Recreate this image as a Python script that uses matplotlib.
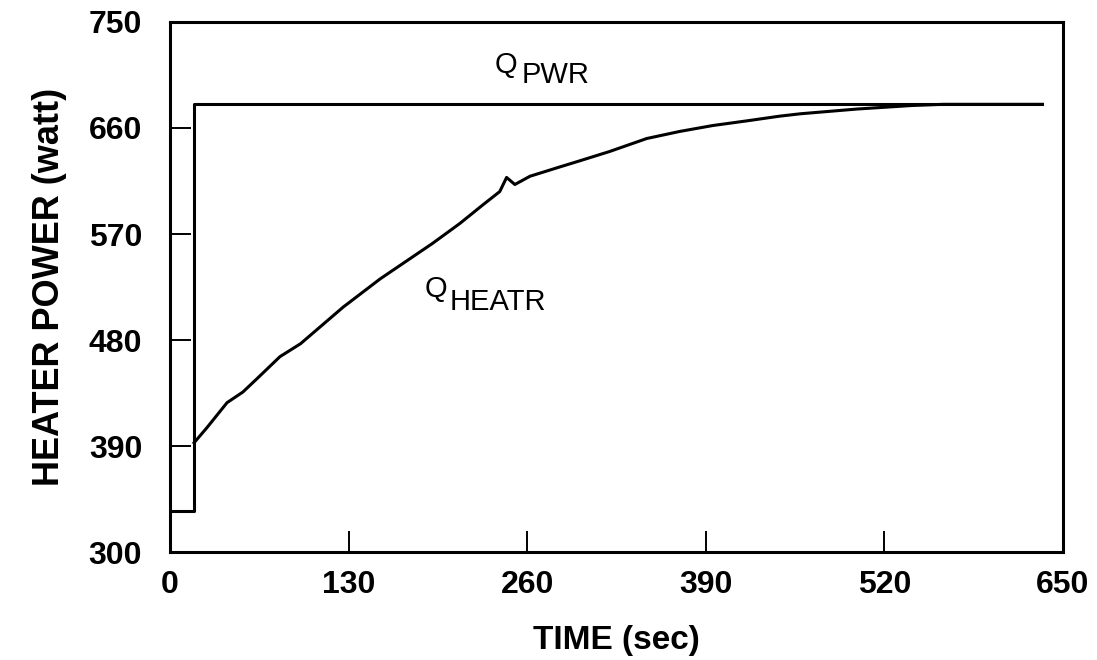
import matplotlib
matplotlib.use("Agg")
import matplotlib.pyplot as plt

plt.rcParams['font.family'] = ['Liberation Sans', 'DejaVu Sans']

# Q_PWR : step from idle power to full power
t_pwr = [0, 17.5, 17.5, 635]
q_pwr = [335, 335, 680, 680]

# Q_HEATR : heater response
t_heatr = [17.5, 27, 41.5, 53, 63, 80, 95, 126, 153, 191, 211, 228, 240, 245,
           251, 262, 284, 298, 320, 347, 371, 395, 420, 444, 459, 500, 540,
           563, 635]
q_heatr = [393, 406, 427, 436, 447, 466, 477, 508, 532, 562, 579, 595, 606, 618,
           612, 619, 627, 632, 640, 651, 657, 662, 666, 670, 672, 676, 679,
           680, 680]

xticks = [0, 130, 260, 390, 520, 650]
yticks = [300, 390, 480, 570, 660, 750]

fig = plt.figure(figsize=(10.97, 6.6), dpi=100)
ax = fig.add_axes([0.155, 0.163, 0.814, 0.804])

ax.plot(t_pwr, q_pwr, color='black', lw=2.2)
ax.plot(t_heatr, q_heatr, color='black', lw=2.2)

ax.set_xlim(0, 650)
ax.set_ylim(300, 750)
ax.set_xticks(xticks)
ax.set_yticks(yticks)
ax.tick_params(direction='in', length=15, width=1.4, labelsize=23,
               top=False, right=False)
for lab in ax.get_xticklabels() + ax.get_yticklabels():
    lab.set_fontweight('bold')
ax.tick_params(axis='x', pad=13)
ax.tick_params(axis='y', pad=20)
for s in ax.spines.values():
    s.set_linewidth(2.2)

ax.set_xlabel('TIME (sec)', fontsize=24, fontweight='bold', labelpad=18)
ax.set_ylabel('HEATER POWER (watt)', fontsize=26, fontweight='bold', labelpad=16)

# curve labels, subscript drawn as its own text at the same size
ax.text(236.6, 706.8, 'Q', fontsize=21, va='baseline')
ax.text(256.2, 698.3, 'PWR', fontsize=21, va='baseline')
ax.text(185.6, 517, 'Q', fontsize=21, va='baseline')
ax.text(203.8, 506, 'HEATR', fontsize=21, va='baseline')

fig.savefig('out.png', dpi=100)
